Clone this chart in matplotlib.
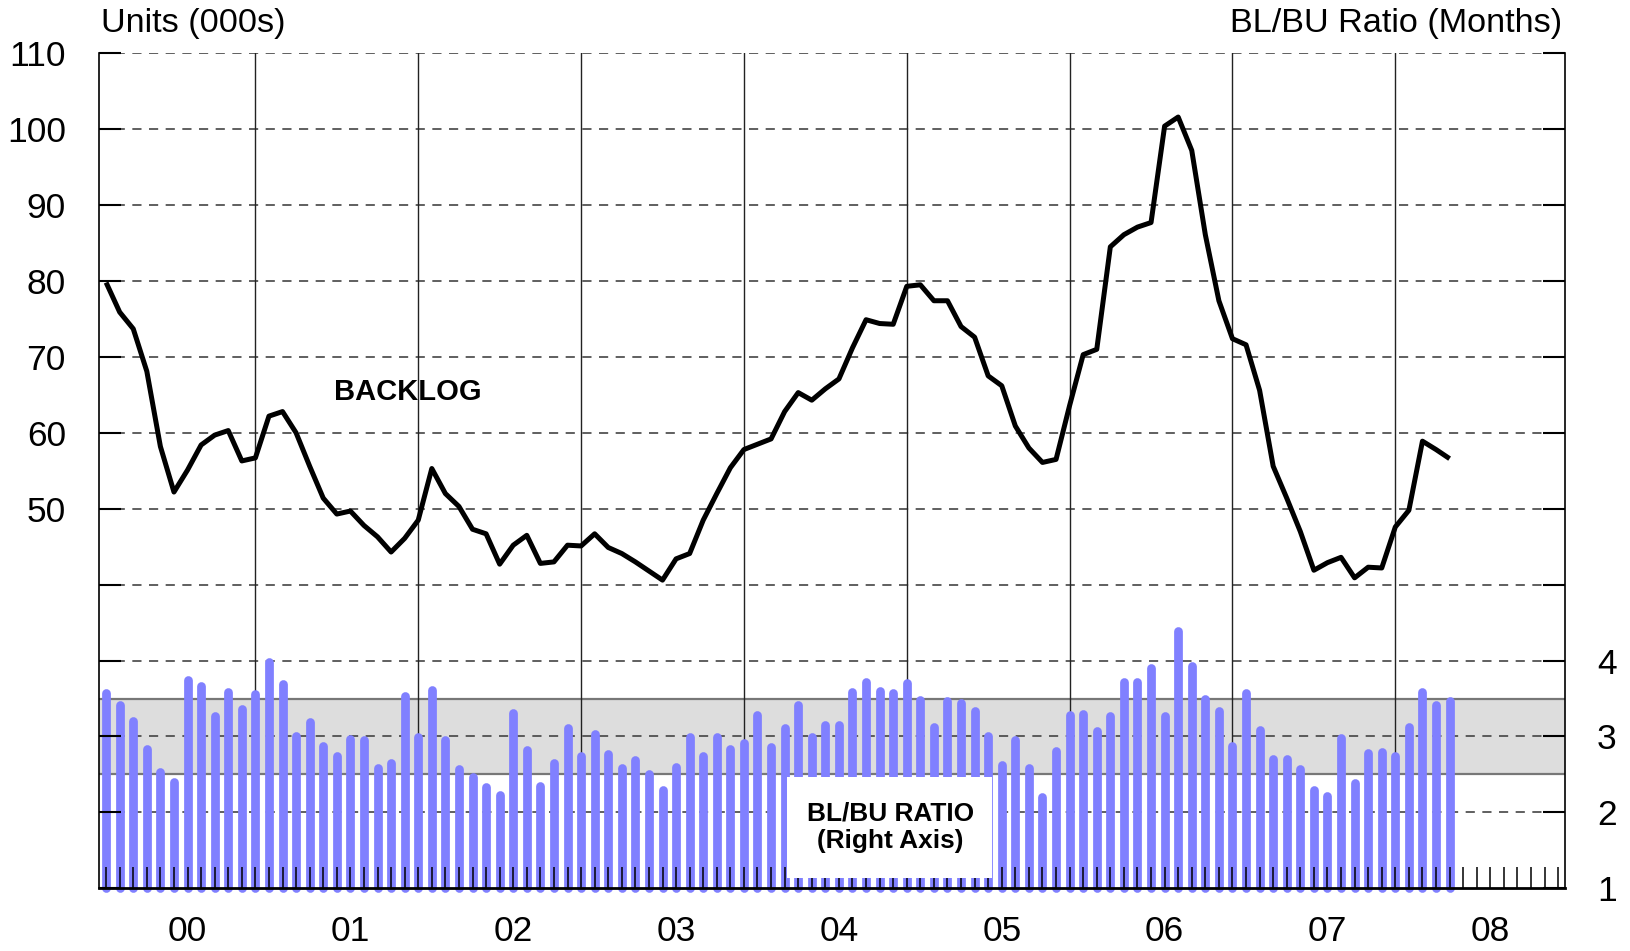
import numpy as np
import matplotlib
matplotlib.use("Agg")
import matplotlib.pyplot as plt
from matplotlib.patches import Rectangle

plt.rcParams['font.family'] = ['Liberation Sans', 'DejaVu Sans']

# monthly backlog (000s units), left axis
backlog = [79.8, 75.9, 73.7, 68.1, 58.2, 52.2, 55.1, 58.4, 59.7, 60.3, 56.3, 56.7, 62.2, 62.8,
           60.0, 55.6, 51.4, 49.3, 49.7, 47.8, 46.3, 44.3, 46.1, 48.5, 55.3, 52.0, 50.3, 47.3,
           46.7, 42.7, 45.2, 46.5, 42.8, 43.0, 45.2, 45.1, 46.7, 44.9, 44.1, 43.0, 41.8, 40.6,
           43.4, 44.1, 48.5, 52.0, 55.4, 57.8, 58.5, 59.2, 62.8, 65.3, 64.3, 65.8, 67.1, 71.2,
           74.9, 74.4, 74.3, 79.3, 79.5, 77.4, 77.4, 74.0, 72.6, 67.5, 66.2, 60.9, 58.0, 56.1,
           56.5, 63.6, 70.3, 71.0, 84.5, 86.1, 87.1, 87.7, 100.4, 101.6, 97.2, 86.1, 77.4, 72.4,
           71.6, 65.6, 55.6, 51.4, 47.0, 41.9, 42.9, 43.6, 40.9, 42.3, 42.2, 47.6, 49.8, 58.9,
           57.8, 56.6]

# backlog / build-up ratio (months), right axis
bl_bu_ratio = [3.57, 3.41, 3.20, 2.83, 2.53, 2.40, 3.75, 3.67, 3.27, 3.59, 3.36, 3.56, 3.98, 3.69,
               3.00, 3.19, 2.87, 2.74, 2.97, 2.95, 2.58, 2.65, 3.53, 2.99, 3.61, 2.96, 2.57, 2.46,
               2.33, 2.23, 3.31, 2.82, 2.35, 2.65, 3.11, 2.74, 3.03, 2.77, 2.59, 2.69, 2.51, 2.30,
               2.60, 2.99, 2.74, 2.99, 2.84, 2.91, 3.28, 2.86, 3.11, 3.41, 2.99, 3.15, 3.15, 3.58,
               3.72, 3.60, 3.57, 3.71, 3.48, 3.12, 3.47, 3.44, 3.33, 3.00, 2.62, 2.95, 2.59, 2.20,
               2.81, 3.28, 3.30, 3.07, 3.27, 3.72, 3.72, 3.90, 3.27, 4.39, 3.93, 3.50, 3.33, 2.88,
               3.57, 3.09, 2.70, 2.71, 2.57, 2.29, 2.22, 2.98, 2.39, 2.78, 2.79, 2.74, 3.13, 3.59,
               3.41, 3.47]

year_labels = ["00", "01", "02", "03", "04", "05", "06", "07", "08"]
n_months_axis = 108          # Jun-99 .. Jun-08 axis span
first_label_month = 6.5
ratio_band = (2.5, 3.5)

x = np.arange(len(backlog)) + 0.5

fig = plt.figure(figsize=(16.31, 9.51), dpi=100)
ax = fig.add_axes([0.0609, 0.0659, 0.8986, 0.8781])
ax2 = ax.twinx()
ax.set_zorder(ax2.get_zorder() + 1)
ax.patch.set_visible(False)

ax.set_xlim(0, n_months_axis)
ax.set_ylim(0, 110)
ax2.set_ylim(1, 12)

# background: band, grid, year separators
ax2.axhspan(*ratio_band, color="#dddddd", zorder=0, lw=0)
for v in ratio_band:
    ax2.axhline(v, color="#777777", lw=1.6, zorder=1)
for v in range(2, 13):
    ax2.axhline(v, color="#444444", lw=1.2, ls=(0, (5.5, 4.5)), zorder=1)
for m in np.arange(11.5, 100, 12):
    ax2.axvline(m, color="#222222", lw=1.0, zorder=1)

# ratio bars
ax2.vlines(x, 1, bl_bu_ratio, colors="#8080ff", lw=6.3, capstyle="round",
           zorder=3, clip_on=False)
# monthly ticks along the bottom
ax2.vlines(np.arange(n_months_axis) + 0.5, 1, 1.285, colors="black", lw=1.1, zorder=4)

# label box over the bars
ax2.add_patch(Rectangle((50.7, 1.13), 15.1, 1.34, facecolor="white", edgecolor="none", zorder=5))
ax2.text(58.3, 1.8, "BL/BU RATIO\n(Right Axis)", ha="center", va="center",
         fontsize=18.9, fontweight="bold", linespacing=1.2, zorder=6)

# backlog line
ax.plot(x, backlog, color="black", lw=3.6, solid_capstyle="butt", zorder=5)
ax.text(22.75, 65.4, "BACKLOG", ha="center", va="center", fontsize=21, fontweight="bold")

# left axis
ax.set_yticks(np.arange(0, 111, 10))
ax.set_yticklabels([str(v) if v >= 50 else "" for v in range(0, 111, 10)])
ax.tick_params(axis="y", direction="in", length=16, width=1.5, pad=24, labelsize=25.5)
ax2.set_yticks(np.arange(1, 13))
ax2.set_yticklabels([str(v) if v <= 4 else "" for v in range(1, 13)])
ax2.tick_params(axis="y", direction="in", length=16, width=1.5, pad=23, labelsize=25.5)

ax.set_xticks(first_label_month + 12 * np.arange(len(year_labels)))
ax.set_xticklabels(year_labels)
ax.tick_params(axis="x", length=0, pad=19, labelsize=25.5)

for a in (ax, ax2):
    a.spines["top"].set_visible(False)
ax.spines["bottom"].set_linewidth(2.0)
ax.spines["left"].set_linewidth(1.2)
ax2.spines["right"].set_linewidth(1.2)
ax2.spines["bottom"].set_visible(False)
ax2.spines["left"].set_visible(False)
ax.spines["right"].set_visible(False)

fig.text(0.062, 0.975, "Units (000s)", ha="left", va="center", fontsize=24.7)
fig.text(0.9577, 0.975, "BL/BU Ratio (Months)", ha="right", va="center", fontsize=24.7)

fig.savefig("out.png", dpi=100)
